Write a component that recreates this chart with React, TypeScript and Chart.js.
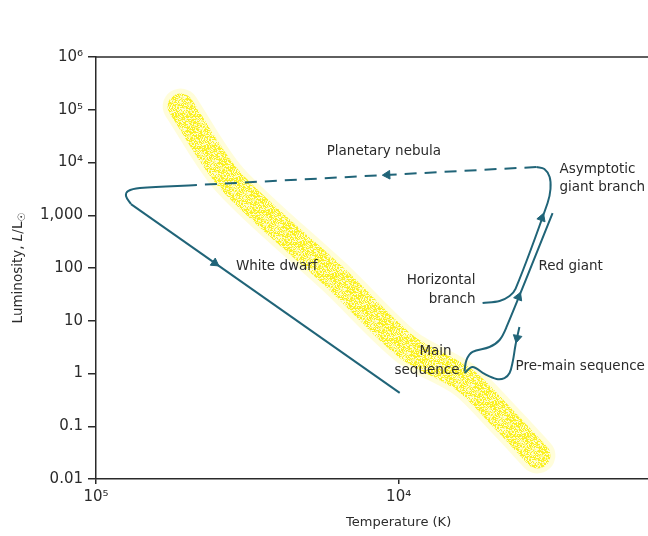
import React, { useEffect, useRef } from "react";
import { Chart, registerables } from "chart.js";

Chart.register(...registerables);

// ---- axis ticks ----
const Y_TICKS = [0.01, 0.1, 1, 10, 100, 1000, 1e4, 1e5, 1e6];
const Y_TICK_LABELS = ["0.01", "0.1", "1", "10", "100", "1,000", "10⁴", "10⁵", "10⁶"];
const X_TICKS = [1e5, 1e4];
const X_TICK_LABELS = ["10⁵", "10⁴"];

// ---- main sequence band (centre line) ----
const MS_T = [52500, 36100, 15900, 9400, 6050, 4470, 3480];
const MS_L = [1.15e5, 4660, 59.3, 3.18, 0.75, 0.131, 0.028];

// ---- evolutionary track ----
const PREMAIN_T = [3990, 4110, 4200, 4300, 4470, 4750, 5200, 5700, 6060];
const PREMAIN_L = [7.62, 3.47, 1.65, 1.02, 0.82, 0.79, 0.98, 1.33, 1.02];

const REDGIANT_T = [6060, 5970, 5700, 5010, 4640, 4400, 3100];
const REDGIANT_L = [1.1, 1.8, 2.56, 3.18, 4.32, 7.62, 1100];

const AGB_T = [5280, 4640, 4300, 4110, 3220, 3150, 3170, 3300, 3505];
const AGB_L = [21.7, 23.7, 29.5, 40.0, 1710, 3150, 5310, 7530, 8220];

const NEBULA_T = [3505, 46400];
const NEBULA_L = [8220, 3740];

const WDCURVE_T = [46400, 71600, 78400, 79600, 76650];
const WDCURVE_L = [3740, 3290, 2880, 2320, 1630];

const WDLINE_T = [76650, 9920];
const WDLINE_L = [1630, 0.43];

// ---- arrow heads (position + heading in degrees) ----
const ARROW_T = [10900, 40500, 4060, 4015, 3365];
const ARROW_L = [5820, 124, 4.71, 28.2, 887];
const ARROW_ROT = [267, 125, 192, 22, 20];

// ---- annotations ----
const LABEL_TEXT = [
  "Planetary nebula",
  "Asymptotic",
  "giant branch",
  "Red giant",
  "Horizontal",
  "branch",
  "White dwarf",
  "Main",
  "sequence",
  "Pre-main sequence",
];
const LABEL_T = [17290, 2942, 2942, 3450, 5570, 5570, 34500, 6680, 6290, 4110];
const LABEL_L = [16500, 7210, 3290, 109, 56.7, 25.8, 109, 2.67, 1.16, 1.33];
const LABEL_ALIGN: CanvasTextAlign[] = [
  "left", "left", "left", "left", "right", "right", "left", "right", "right", "left",
];

const TRACK = "#206478";
const AXIS = "#2a2a2a";
const TEXT = "#2b2b2b";
const FONT = '"DejaVu Sans", sans-serif';

const pts = (t: number[], l: number[]) => t.map((v, i) => ({ x: v, y: l[i] }));

const trackDs = (t: number[], l: number[], extra: any = {}) => ({
  data: pts(t, l),
  showLine: true,
  borderColor: TRACK,
  borderWidth: 2,
  pointRadius: 0,
  tension: 0.35,
  fill: false,
  order: 1,
  ...extra,
});

// speckled texture for the main-sequence band (styling only)
function makeStipple(): CanvasPattern | string {
  const c = document.createElement("canvas");
  c.width = 32;
  c.height = 32;
  const g = c.getContext("2d");
  if (!g) return "rgba(250,240,40,0.6)";
  const img = g.createImageData(32, 32);
  for (let j = 0; j < 32; j++) {
    for (let i = 0; i < 32; i++) {
      let h = (i * 374761393 + j * 668265263) | 0;
      h = Math.imul(h ^ (h >>> 13), 1274126177);
      h = (h ^ (h >>> 16)) >>> 0;
      const r = (h % 1000) / 1000;
      const k = (j * 32 + i) * 4;
      if (r < 0.5) {
        img.data[k] = 250; img.data[k + 1] = 240; img.data[k + 2] = 20; img.data[k + 3] = 235;
      } else if (r < 0.75) {
        img.data[k] = 252; img.data[k + 1] = 246; img.data[k + 2] = 110; img.data[k + 3] = 180;
      } else {
        img.data[k] = 255; img.data[k + 1] = 252; img.data[k + 2] = 200; img.data[k + 3] = 90;
      }
    }
  }
  g.putImageData(img, 0, 0);
  const p = g.createPattern(c, "repeat");
  return p || "rgba(250,240,40,0.6)";
}

const annotPlugin = {
  id: "annot",
  afterDatasetsDraw(chart: any) {
    const { ctx, chartArea, scales } = chart;
    const xs = scales.x;
    const ys = scales.y;
    ctx.save();
    // top frame line
    ctx.strokeStyle = AXIS;
    ctx.lineWidth = 1.5;
    ctx.beginPath();
    ctx.moveTo(chartArea.left, chartArea.top);
    ctx.lineTo(chart.width, chartArea.top);
    ctx.stroke();

    // labels
    ctx.fillStyle = TEXT;
    ctx.font = `13.5px ${FONT}`;
    ctx.textBaseline = "middle";
    LABEL_TEXT.forEach((txt, i) => {
      ctx.textAlign = LABEL_ALIGN[i];
      ctx.fillText(txt, xs.getPixelForValue(LABEL_T[i]), ys.getPixelForValue(LABEL_L[i]));
    });

    // x title
    ctx.textAlign = "center";
    ctx.font = `13px ${FONT}`;
    ctx.fillText("Temperature (K)", xs.getPixelForValue(1e4), chartArea.bottom + 44);

    // y title with italic L and sun subscript
    const cy = (chartArea.top + chartArea.bottom) / 2;
    ctx.translate(18, cy);
    ctx.rotate(-Math.PI / 2);
    ctx.textAlign = "left";
    const parts = [
      { t: "Luminosity, ", f: `13.5px ${FONT}`, dy: 0 },
      { t: "L", f: `italic 13.5px ${FONT}`, dy: 0 },
      { t: "/L", f: `13.5px ${FONT}`, dy: 0 },
      { t: "☉", f: `10px ${FONT}`, dy: 4 },
    ];
    let total = 0;
    parts.forEach((p) => {
      ctx.font = p.f;
      total += ctx.measureText(p.t).width;
    });
    let x = -total / 2;
    parts.forEach((p) => {
      ctx.font = p.f;
      ctx.fillText(p.t, x, p.dy);
      x += ctx.measureText(p.t).width;
    });
    ctx.restore();
  },
};

export default function App() {
  const ref = useRef<HTMLCanvasElement | null>(null);

  useEffect(() => {
    if (!ref.current) return;
    const stipple = makeStipple();
    const chart = new Chart(ref.current, {
      type: "scatter",
      data: {
        datasets: [
          // arrows on top
          {
            data: pts(ARROW_T, ARROW_L),
            showLine: false,
            pointStyle: "triangle",
            pointRadius: 5,
            pointRotation: ARROW_ROT,
            backgroundColor: TRACK,
            borderColor: TRACK,
            borderWidth: 1,
            order: 0,
          } as any,
          trackDs(PREMAIN_T, PREMAIN_L),
          trackDs(REDGIANT_T, REDGIANT_L),
          trackDs(AGB_T, AGB_L),
          trackDs(NEBULA_T, NEBULA_L, { borderDash: [12, 8], tension: 0 }),
          trackDs(WDCURVE_T, WDCURVE_L),
          trackDs(WDLINE_T, WDLINE_L, { tension: 0 }),
          // main sequence band
          {
            data: pts(MS_T, MS_L),
            showLine: true,
            borderColor: stipple,
            borderWidth: 26,
            borderCapStyle: "round",
            borderJoinStyle: "round",
            pointRadius: 0,
            tension: 0.3,
            order: 9,
          } as any,
          {
            data: pts(MS_T, MS_L),
            showLine: true,
            borderColor: "rgba(255,250,150,0.35)",
            borderWidth: 36,
            borderCapStyle: "round",
            borderJoinStyle: "round",
            pointRadius: 0,
            tension: 0.3,
            order: 10,
          } as any,
        ],
      },
      options: {
        responsive: false,
        animation: false,
        layout: { autoPadding: false, padding: { top: 57, left: 0, right: 0, bottom: 0 } },
        plugins: { legend: { display: false }, tooltip: { enabled: false } },
        scales: {
          x: {
            type: "logarithmic",
            reverse: true,
            min: 1500,
            max: 1e5,
            afterBuildTicks: (s: any) => {
              s.ticks = X_TICKS.map((v) => ({ value: v }));
            },
            afterFit: (s: any) => {
              s.height = 57;
              s.paddingLeft = 0;
              s.paddingRight = 0;
            },
            ticks: {
              autoSkip: false,
              maxRotation: 0,
              padding: 4,
              color: TEXT,
              font: { family: FONT, size: 15 },
              callback: (v: any) => X_TICK_LABELS[X_TICKS.indexOf(Number(v))] ?? "",
            },
            grid: { display: true, drawOnChartArea: false, tickLength: 5, color: AXIS, lineWidth: 1.5 },
            border: { display: true, color: AXIS, width: 1.5 },
          },
          y: {
            type: "logarithmic",
            min: 0.01,
            max: 1e6,
            afterBuildTicks: (s: any) => {
              s.ticks = Y_TICKS.map((v) => ({ value: v }));
            },
            afterFit: (s: any) => {
              s.width = 96;
              s.paddingTop = 0;
              s.paddingBottom = 0;
            },
            ticks: {
              autoSkip: false,
              padding: 5,
              color: TEXT,
              font: { family: FONT, size: 15 },
              callback: (v: any) => Y_TICK_LABELS[Y_TICKS.indexOf(Number(v))] ?? "",
            },
            grid: { display: true, drawOnChartArea: false, tickLength: 8, color: AXIS, lineWidth: 1.5 },
            border: { display: true, color: AXIS, width: 1.5 },
          },
        },
      } as any,
      plugins: [annotPlugin],
    });
    return () => chart.destroy();
  }, []);

  return (
    <div style={{ position: "fixed", left: 0, top: 0, width: 648, height: 536, background: "#fff" }}>
      <canvas ref={ref} width={648} height={536} style={{ display: "block", width: 648, height: 536 }} />
    </div>
  );
}
